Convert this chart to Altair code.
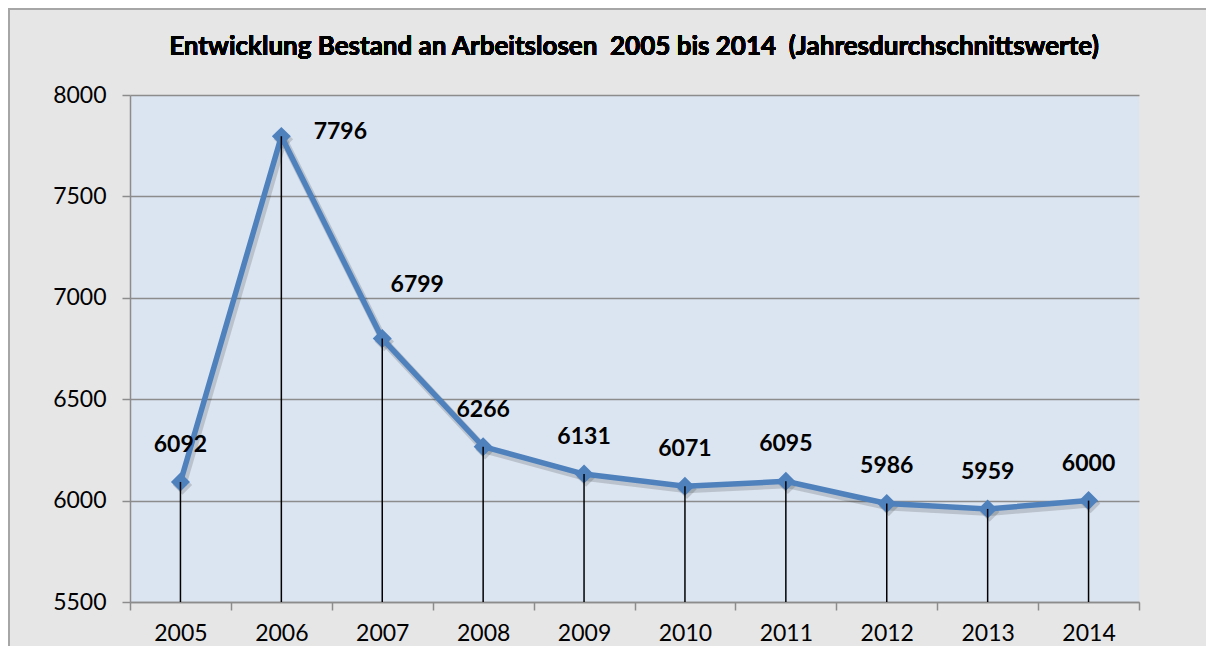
import altair as alt
import pandas as pd

years = ["2005", "2006", "2007", "2008", "2009", "2010", "2011", "2012", "2013", "2014"]
values = [6092, 7796, 6799, 6266, 6131, 6071, 6095, 5986, 5959, 6000]
y_ticks = [5500, 6000, 6500, 7000, 7500, 8000]
title_text = "Entwicklung Bestand an Arbeitslosen\u00a0\u00a02005 bis 2014\u00a0\u00a0(Jahresdurchschnittswerte)"

df = pd.DataFrame({"year": years, "value": values})
df["base"] = y_ticks[0]

FONT = "Lato"
BLUE = "#4f81bd"

x_enc = alt.X("year:N", sort=years, title=None,
              scale=alt.Scale(paddingInner=0, paddingOuter=0),
              axis=alt.Axis(labelAngle=0, tickBand="extent", tickSize=8,
                            labelPadding=12, labelFontSize=23, labelFont=FONT,
                            labelColor="#000000", domainColor="#8c8c8c",
                            tickColor="#8c8c8c", domainWidth=1.5, tickWidth=1.5,
                            grid=False))
y_enc = alt.Y("value:Q", title=None,
              scale=alt.Scale(domain=[y_ticks[0], y_ticks[-1]], nice=False, zero=False),
              axis=alt.Axis(values=y_ticks, format="d", tickSize=8, labelPadding=16,
                            labelFontSize=23, labelFont=FONT, labelColor="#000000",
                            domainColor="#8c8c8c", tickColor="#8c8c8c",
                            domainWidth=1.5, tickWidth=1.5,
                            grid=True, gridColor="#8c8c8c", gridWidth=1.5))

base = alt.Chart(df)

shadow_line = base.mark_line(color="#000000", opacity=0.15, strokeWidth=8,
                             xOffset=2, yOffset=3).encode(x=x_enc, y=y_enc)
shadow_pts = base.mark_point(shape="diamond", filled=True, size=380, color="#000000",
                             opacity=0.15, xOffset=2, yOffset=3).encode(x=x_enc, y=y_enc)
line = base.mark_line(color=BLUE, strokeWidth=5.5).encode(x=x_enc, y=y_enc)
pts = base.mark_point(shape="diamond", filled=True, size=360, color=BLUE,
                      opacity=1).encode(x=x_enc, y=y_enc)
drops = base.mark_rule(color="#000000", strokeWidth=1.5).encode(
    x=x_enc, y=y_enc, y2="base:Q")

label_common = dict(font=FONT, fontSize=23, fontWeight="bold", color="#000000",
                    baseline="middle", align="center")
labels_main = base.transform_filter(
    (alt.datum.year != "2006") & (alt.datum.year != "2007")
).mark_text(dy=-37, **label_common).encode(x=x_enc, y=y_enc, text="value:Q")
label_06 = base.transform_filter(alt.datum.year == "2006").mark_text(
    dx=59, dy=-4, **label_common).encode(x=x_enc, y=y_enc, text="value:Q")
label_07 = base.transform_filter(alt.datum.year == "2007").mark_text(
    dx=35, dy=-54, **label_common).encode(x=x_enc, y=y_enc, text="value:Q")

title = base.mark_text(font=FONT, fontSize=26, fontWeight="bold", color="#000000",
                       align="center", baseline="middle", clip=False).encode(
    x=alt.value(504), y=alt.value(-48), text=alt.value(title_text))

border_left = base.mark_rule(color="#a6a6a6", strokeWidth=1.5, clip=False).encode(
    x=alt.value(-121), y=alt.value(-87), y2=alt.value(560))
border_top = base.mark_rule(color="#a6a6a6", strokeWidth=1.5, clip=False).encode(
    x=alt.value(-122), x2=alt.value(1076), y=alt.value(-86))

chart = alt.layer(
    shadow_line, shadow_pts, line, pts, drops, labels_main, label_06, label_07,
    title, border_left, border_top
).properties(
    width=1009, height=507,
    padding={"left": 122, "top": 87, "right": 67, "bottom": 44},
    autosize=alt.AutoSizeParams(type="none"),
    background="#e6e6e6",
).configure_view(fill="#dbe5f1", stroke=None)

chart.save("out.html", embed_options={"renderer": "svg", "actions": False})
